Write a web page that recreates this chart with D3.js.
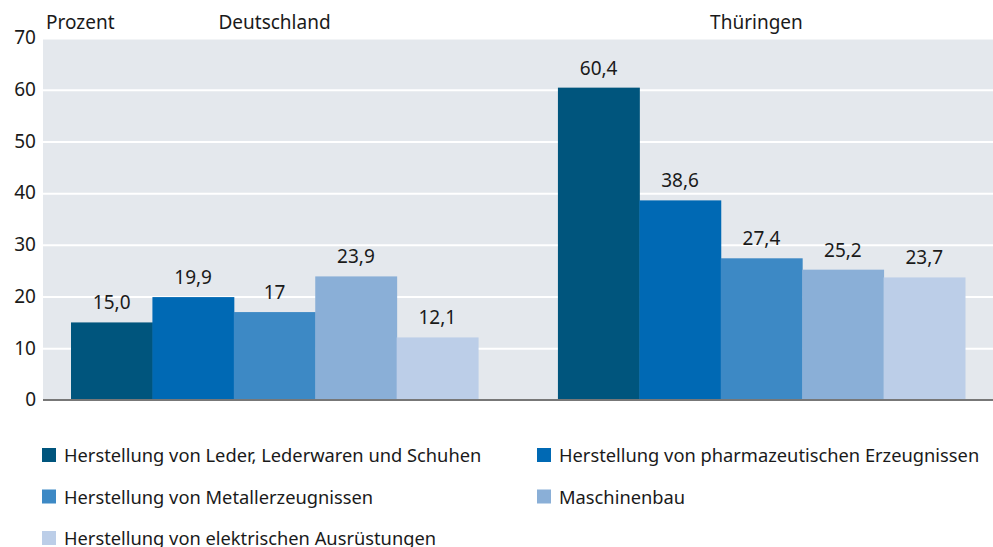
<!DOCTYPE html>
<html>
<head>
<meta charset="utf-8">
<script src="https://cdn.jsdelivr.net/npm/d3@7"></script>
<style>
  body { margin: 0; background: #fff; }
  text { font-family: "Noto Sans", sans-serif; fill: #1a1a1a; }
</style>
</head>
<body>
<div id="chart"></div>
<script>
var regions = ["Deutschland", "Thüringen"];
var branches = [
  "Herstellung von Leder, Lederwaren und Schuhen",
  "Herstellung von pharmazeutischen Erzeugnissen",
  "Herstellung von Metallerzeugnissen",
  "Maschinenbau",
  "Herstellung von elektrischen Ausrüstungen"
];
var valuesDeutschland = [15.0, 19.9, 17, 23.9, 12.1];
var valuesThueringen = [60.4, 38.6, 27.4, 25.2, 23.7];
var valueLabelsDeutschland = ["15,0", "19,9", "17", "23,9", "12,1"];
var valueLabelsThueringen = ["60,4", "38,6", "27,4", "25,2", "23,7"];
var yTicks = [0, 10, 20, 30, 40, 50, 60, 70];
var colors = ["#00557d", "#0069b4", "#3d89c5", "#8aafd7", "#bccee8"];

var width = 993, height = 547;
var plotLeft = 43, plotRight = 993, plotTop = 38, plotBottom = 400;
var fontSize = 19;

var svg = d3.select("#chart").append("svg")
    .attr("width", width)
    .attr("height", height);

var y = d3.scaleLinear().domain([0, 70]).range([plotBottom, plotTop]);
var x0 = d3.scaleBand().domain(regions).range([plotLeft, plotRight])
    .paddingInner(0.164).paddingOuter(0.0575);
var x1 = d3.scaleBand().domain(branches).range([0, x0.bandwidth()]);

// plot background
svg.append("rect")
    .attr("x", plotLeft).attr("y", plotTop)
    .attr("width", plotRight - plotLeft).attr("height", plotBottom - plotTop)
    .attr("fill", "#e4e8ed");

// grid
svg.append("g")
    .attr("transform", "translate(" + plotLeft + ",0)")
    .call(d3.axisLeft(y).tickValues(yTicks.slice(1)).tickSize(-(plotRight - plotLeft)).tickFormat(""))
    .call(function(g) {
      g.select(".domain").remove();
      g.selectAll("line").attr("stroke", "#fff").attr("stroke-width", 2);
    });

// y labels
svg.append("g").selectAll("text")
    .data(yTicks)
  .enter().append("text")
    .attr("x", 36)
    .attr("y", function(d) { return y(d); })
    .attr("dy", "0.33em")
    .attr("text-anchor", "end")
    .attr("font-size", fontSize)
    .text(function(d) { return d; });

var groups = [
  { region: regions[0], values: valuesDeutschland, labels: valueLabelsDeutschland },
  { region: regions[1], values: valuesThueringen, labels: valueLabelsThueringen }
];

var g = svg.selectAll(".group")
    .data(groups)
  .enter().append("g")
    .attr("class", "group")
    .attr("transform", function(d) { return "translate(" + x0(d.region) + ",0)"; });

g.selectAll("rect")
    .data(function(d) { return d.values.map(function(v, i) { return { v: v, b: branches[i], i: i }; }); })
  .enter().append("rect")
    .attr("x", function(d) { return x1(d.b); })
    .attr("y", function(d) { return y(d.v); })
    .attr("width", x1.bandwidth() + 0.5)
    .attr("height", function(d) { return y(0) - y(d.v); })
    .attr("fill", function(d) { return colors[d.i]; });

g.selectAll(".val")
    .data(function(d) { return d.values.map(function(v, i) { return { v: v, b: branches[i], l: d.labels[i] }; }); })
  .enter().append("text")
    .attr("class", "val")
    .attr("x", function(d) { return x1(d.b) + x1.bandwidth() / 2; })
    .attr("y", function(d) { return y(d.v) - 13; })
    .attr("text-anchor", "middle")
    .attr("font-size", fontSize)
    .text(function(d) { return d.l; });

// region titles
svg.selectAll(".region")
    .data(regions)
  .enter().append("text")
    .attr("x", function(d, i) { return x0(d) + x0.bandwidth() / 2 - (i ? 5 : 0); })
    .attr("y", 29)
    .attr("text-anchor", "middle")
    .attr("font-size", fontSize)
    .text(function(d) { return d; });

svg.append("text")
    .attr("x", 46).attr("y", 29)
    .attr("font-size", fontSize)
    .text("Prozent");

// baseline
svg.append("line")
    .attr("x1", plotLeft).attr("x2", plotRight)
    .attr("y1", y(0)).attr("y2", y(0))
    .attr("stroke", "#777").attr("stroke-width", 2);

// legend
var legend = svg.selectAll(".legend")
    .data(branches)
  .enter().append("g")
    .attr("class", "legend")
    .attr("transform", function(d, i) {
      return "translate(" + (i % 2 ? 537 : 42) + "," + (448 + Math.floor(i / 2) * 41.5) + ")";
    });

legend.append("rect")
    .attr("width", 14).attr("height", 14)
    .attr("fill", function(d, i) { return colors[i]; });

legend.append("text")
    .attr("x", 22).attr("y", 14)
    .attr("font-size", 18.3)
    .text(function(d) { return d; });
</script>
</body>
</html>
